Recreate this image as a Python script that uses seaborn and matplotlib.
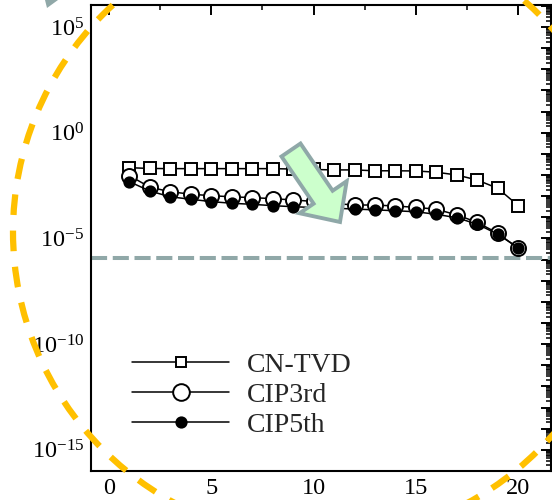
import numpy as np
import pandas as pd
import matplotlib
matplotlib.use('Agg')
import matplotlib.pyplot as plt
import seaborn as sns
from matplotlib.patches import Circle, FancyArrow, Polygon
from matplotlib.ticker import LogLocator, FuncFormatter, MultipleLocator, NullFormatter
from matplotlib.lines import Line2D

# ---- data ----
steps = list(range(1, 21))
cn_tvd = [2.21e-2, 2.04e-2, 2.0e-2, 2.0e-2, 2.0e-2, 2.0e-2, 2.0e-2, 2.0e-2, 1.91e-2, 1.82e-2,
          1.74e-2, 1.74e-2, 1.58e-2, 1.58e-2, 1.55e-2, 1.35e-2, 1.0e-2, 5.75e-3, 2.34e-3, 3.55e-4]
cip3rd = [9.3e-3, 2.63e-3, 1.62e-3, 1.23e-3, 1.05e-3, 9.3e-4, 8.5e-4, 7.6e-4, 6.6e-4, 5.6e-4,
          4.5e-4, 3.8e-4, 3.8e-4, 3.4e-4, 2.95e-4, 2.4e-4, 1.29e-4, 5.75e-5, 1.74e-5, 3.4e-6]
cip5th = [4.8e-3, 1.74e-3, 9.3e-4, 7.1e-4, 5.5e-4, 4.6e-4, 4.1e-4, 3.55e-4, 3.16e-4, 2.9e-4,
          2.7e-4, 2.45e-4, 2.24e-4, 2.04e-4, 1.82e-4, 1.38e-4, 9.5e-5, 4.7e-5, 1.58e-5, 3.6e-6]
series_names = ["CN-TVD", "CIP3rd", "CIP5th"]
reference_level = 1.2e-6
x_ticks = [0, 5, 10, 15, 20]

df = pd.DataFrame({
    "step": steps * 3,
    "err": cn_tvd + cip3rd + cip5th,
    "scheme": [n for n in series_names for _ in steps],
})

sns.set_theme(style="white")
plt.rcParams['font.family'] = ['Liberation Serif', 'DejaVu Serif']
plt.rcParams['mathtext.fontset'] = 'custom'
plt.rcParams['mathtext.rm'] = 'Liberation Serif'
plt.rcParams['mathtext.it'] = 'Liberation Serif:italic'
plt.rcParams['mathtext.default'] = 'regular'

fig = plt.figure(figsize=(5.52, 5.0), dpi=100)
ax = fig.add_axes([91 / 552, 29 / 500, 460 / 552, 466 / 500])

styles = {
    "CN-TVD": dict(marker="s", markersize=8.6, markerfacecolor="white"),
    "CIP3rd": dict(marker="o", markersize=10.8, markerfacecolor="white"),
    "CIP5th": dict(marker="o", markersize=7.4, markerfacecolor="black"),
}
for name in series_names:
    sub = df[df.scheme == name]
    sns.lineplot(data=sub, x="step", y="err", ax=ax, color="black", linewidth=1.1,
                 markeredgecolor="black", markeredgewidth=1.4,
                 estimator=None, sort=False, legend=False, zorder=3, **styles[name])

ax.axhline(reference_level, color="#90A8A8", lw=2.9, ls=(0, (4, 1.4)), zorder=2)

ax.set_yscale("log")
ax.set_ylim(1e-16, 10 ** 6.04)
ax.set_xlim(-0.88, 21.6)
ax.set_xlabel("")
ax.set_ylabel("")

ax.yaxis.set_major_locator(LogLocator(base=10, numticks=40))
ax.yaxis.set_minor_locator(LogLocator(base=10, subs=np.arange(2, 10), numticks=40))
ax.yaxis.set_minor_formatter(NullFormatter())


def yfmt(v, p):
    e = int(round(np.log10(v)))
    if e % 5 == 0:
        return r"$10^{%d}$" % e
    return ""


ax.yaxis.set_major_formatter(FuncFormatter(yfmt))
ax.set_xticks(x_ticks)
ax.set_xticklabels([str(t) for t in x_ticks])
ax.xaxis.set_minor_locator(MultipleLocator(2.5))

ax.tick_params(which="both", direction="in", top=True, right=True, colors="black")
ax.tick_params(which="major", length=7, width=1.4, labelsize=17.5, pad=5)
ax.tick_params(which="minor", length=3.5, width=1.1)
for s in ax.spines.values():
    s.set_linewidth(1.5)
    s.set_color("black")

handles = [
    Line2D([], [], color="black", lw=1.1, marker="s", markersize=7.2, markerfacecolor="white",
           markeredgecolor="black", markeredgewidth=1.4),
    Line2D([], [], color="black", lw=1.1, marker="o", markersize=12, markerfacecolor="white",
           markeredgecolor="black", markeredgewidth=1.4),
    Line2D([], [], color="black", lw=1.1, marker="o", markersize=7.4, markerfacecolor="black",
           markeredgecolor="black", markeredgewidth=1.4),
]
ax.legend(handles, series_names, loc="upper left", bbox_to_anchor=(0.089, 0.255),
          frameon=False, fontsize=20, handlelength=3.5, handletextpad=0.65,
          labelspacing=0.17, borderpad=0, borderaxespad=0)

# decorations: arrow, dashed circle, small triangle
fig.add_artist(FancyArrow(2.91, 3.50, 0.49, -0.72, width=0.23, head_width=0.57, head_length=0.30,
                          length_includes_head=True, transform=fig.dpi_scale_trans,
                          fc="#CCFFCC", ec="#8FA8A8", lw=2.8, zorder=5))
fig.add_artist(Circle((3.21, 2.68), 3.08, transform=fig.dpi_scale_trans, fill=False,
                      ec="#FFC000", lw=4.5, ls=(0, (3.3, 2.5)), zorder=10))
fig.add_artist(Polygon([(0.45, 5.0), (0.58, 5.0), (0.47, 4.92)], closed=True,
                       transform=fig.dpi_scale_trans, fc="#90A8A8", ec="none", zorder=6))

fig.savefig("out.png", dpi=100)
